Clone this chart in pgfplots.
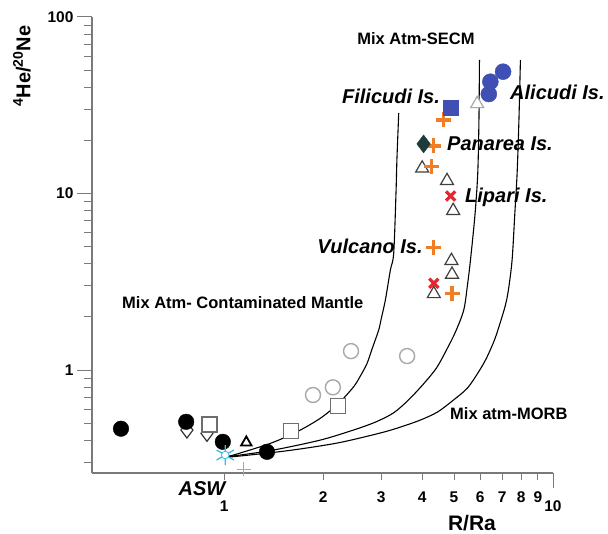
\documentclass[border=0pt]{standalone}
\usepackage{fontspec}
\setmainfont{Liberation Sans}
\usepackage{pgfplots}
\pgfplotsset{compat=1.18}
\definecolor{axgray}{HTML}{7A7A7A}
\definecolor{lightc}{HTML}{A8A8A8}
\definecolor{sqgray}{HTML}{6E6E6E}
\definecolor{orng}{HTML}{F07E26}
\definecolor{redx}{HTML}{E3262F}
\definecolor{bluep}{HTML}{3F4FB3}
\definecolor{tealp}{HTML}{1E3B3C}
\definecolor{aswc}{HTML}{3DB8DE}
\newcommand{\lowlab}[2]{\raisebox{-#1}[\height][0pt]{#2}}

\begin{document}
\begin{tikzpicture}
\useasboundingbox (0pt,0pt) rectangle (608pt,-534pt);
\begin{axis}[
    at={(92pt,-473pt)}, anchor=south west,
    scale only axis, width=461pt, height=456pt,
    xmode=log, ymode=log,
    xmin=0.396, xmax=10, ymin=0.261, ymax=100,
    axis lines=left, axis line style={-, axgray, line width=1.3pt},
    clip=false,
    tick align=outside, major tick length=15pt, minor tick length=8pt,
    every tick/.style={axgray, line width=1pt},
    xtick={10}, xticklabels={\lowlab{9pt}{10}},
    extra x ticks={1,2,3,4,5,6,7,8,9},
    extra x tick labels={\lowlab{9pt}{1},2,3,4,5,6,7,8,9},
    extra x tick style={major tick length=7pt, tick label style={yshift=-8pt}},
    minor xtick={},
    ytick={1,10,100}, yticklabels={1,10,100},
    minor ytick={0.3,0.4,0.5,0.6,0.7,0.8,0.9,2,3,4,5,6,7,8,9,20,30,40,50,60,70,80,90},
    tick label style={font=\fontsize{15.5}{17}\selectfont\bfseries, black},
]
% mixing curves
\addplot[black, line width=1.1pt, smooth, tension=0.5] coordinates {
  (1.028,0.326) (1.067,0.330) (1.380,0.384) (1.665,0.447) (1.960,0.533)
  (2.228,0.648) (2.475,0.804) (2.594,0.925) (2.719,1.091) (2.822,1.332)
  (2.950,1.685) (3.006,1.971) (3.091,2.493) (3.201,3.686) (3.277,4.60)
  (3.330,10.07) (3.351,15.48) (3.394,28.58)};
\addplot[black, line width=1.1pt, smooth, tension=0.5] coordinates {
  (1.028,0.326) (1.065,0.326) (1.410,0.352) (1.960,0.401) (2.470,0.457)
  (2.883,0.507) (3.270,0.571) (3.632,0.676) (4.035,0.833) (4.420,1.026)
  (4.741,1.298) (5.049,1.642) (5.352,2.188) (5.493,3.03) (5.610,4.20)
  (5.789,7.55) (5.904,13.07) (5.953,26.09) (5.975,57.07)};
\addplot[black, line width=1.1pt, smooth, tension=0.5] coordinates {
  (1.028,0.326) (1.065,0.323) (1.555,0.349) (2.208,0.386) (2.985,0.440)
  (3.434,0.475) (3.952,0.521) (4.451,0.578) (4.980,0.676) (5.493,0.791)
  (5.934,0.974) (6.277,1.169) (6.636,1.479) (6.920,1.871) (7.167,2.335)
  (7.318,2.840) (7.510,4.20) (7.650,7.55) (7.780,13.07) (7.878,26.09) (7.961,57.07)};
% open diamonds
\addplot[only marks, mark=diamond*, mark size=8pt, draw=black!80, fill=white, line width=1.2pt]
  coordinates {(0.77,0.457) (0.886,0.438)};
% open squares
\addplot[only marks, mark=square*, mark size=7.5pt, draw=sqgray, fill=white, line width=1.2pt]
  coordinates {(0.902,0.492) (1.596,0.453) (2.213,0.625)};
% grey open circles
\addplot[only marks, mark=*, mark size=7.5pt, draw=lightc, fill=white, line width=1.4pt]
  coordinates {(1.862,0.722) (2.14,0.798) (2.43,1.28) (3.6,1.2)};
% black circles
\addplot[only marks, mark=*, mark size=7.8pt, black]
  coordinates {(0.485,0.465) (0.766,0.509) (0.99,0.392) (1.349,0.344)};
% small black triangle
\addplot[only marks, mark=triangle, mark size=6pt, black, line width=1.8pt]
  coordinates {(1.167,0.389)};
% ASW
\addplot[only marks, mark=asterisk, mark size=10pt, aswc, line width=1.3pt]
  coordinates {(1.007,0.33)};
\addplot[only marks, mark=*, mark size=3.8pt, draw=aswc, fill=white, line width=0.8pt]
  coordinates {(1.007,0.33)};
% grey plus
\addplot[only marks, mark=+, mark size=7pt, lightc, line width=1pt]
  coordinates {(1.145,0.274)};
% open triangles
\addplot[only marks, mark=triangle*, mark size=7.5pt, draw=black!75, fill=white, line width=1.2pt]
  coordinates {(4.0,13.9) (4.76,11.8) (4.97,7.99) (4.91,4.16) (4.93,3.48) (4.34,2.70)};
\addplot[only marks, mark=triangle*, mark size=7.5pt, draw=lightc, fill=white, line width=1.2pt]
  coordinates {(5.88,32.2)};
% orange plus
\addplot[only marks, mark=+, mark size=7.5pt, orng, line width=3.2pt]
  coordinates {(4.65,26.1) (4.34,18.6) (4.27,14.2) (4.34,4.96) (4.93,2.72)};
% red crosses
\addplot[only marks, mark=x, mark size=6.5pt, redx, line width=3.2pt]
  coordinates {(4.88,9.68) (4.34,3.1)};
% teal diamond
\addplot[only marks, mark=diamond*, mark size=9pt, tealp]
  coordinates {(4.04,19.1)};
% blue square
\addplot[only marks, mark=square*, mark size=7.5pt, bluep]
  coordinates {(4.9,30.8)};
% blue circles
\addplot[only marks, mark=*, mark size=8pt, bluep]
  coordinates {(7.05,49) (6.45,43) (6.38,36.6)};
\end{axis}
% labels
\node[font=\fontsize{16.5}{18}\selectfont\bfseries] at (416pt,-39pt) {Mix Atm-SECM};
\node[font=\fontsize{16.5}{18}\selectfont\bfseries, anchor=west, inner sep=0pt] at (122pt,-303pt) {Mix Atm- Contaminated Mantle};
\node[font=\fontsize{16.5}{18}\selectfont\bfseries, anchor=west, inner sep=0pt] at (450pt,-414pt) {Mix atm-MORB};
\node[font=\fontsize{20}{22}\selectfont\bfseries\itshape] at (391pt,-96pt) {Filicudi Is.};
\node[font=\fontsize{20}{22}\selectfont\bfseries\itshape, anchor=west, inner sep=0pt] at (510pt,-92pt) {Alicudi Is.};
\node[font=\fontsize{20}{22}\selectfont\bfseries\itshape, anchor=west, inner sep=0pt] at (447pt,-144pt) {Panarea Is.};
\node[font=\fontsize{20}{22}\selectfont\bfseries\itshape, anchor=west, inner sep=0pt] at (465pt,-197pt) {Lipari Is.};
\node[font=\fontsize{20}{22}\selectfont\bfseries\itshape] at (370pt,-246pt) {Vulcano Is.};
\node[font=\fontsize{20}{22}\selectfont\bfseries\itshape, inner sep=0pt] at (202pt,-489pt) {ASW};
\node[font=\fontsize{21}{23}\selectfont\bfseries, inner sep=0pt] at (472pt,-523pt) {R/Ra};
\node[font=\fontsize{20}{22}\selectfont\bfseries, rotate=90] at (22pt,-66pt) {\textsuperscript{4}He/\textsuperscript{20}Ne};
\end{tikzpicture}
\end{document}
